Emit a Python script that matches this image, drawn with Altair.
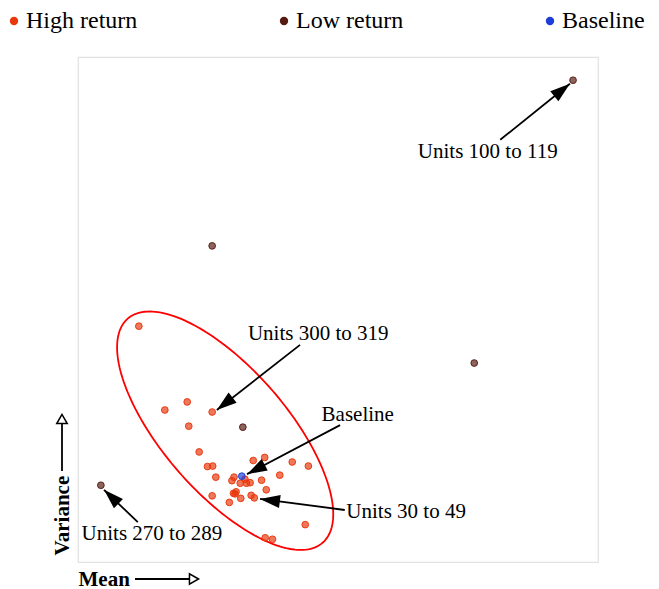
import math
import altair as alt
import pandas as pd

# ---------------- data (arbitrary mean / variance units, 0-100) ----------------
high_mean = [11.7, 21.0, 16.7, 25.8, 21.3, 23.3, 24.9, 25.9, 26.5, 33.7, 35.9,
             30.0, 29.6, 31.2, 32.1, 32.4, 33.1, 35.3, 36.2, 25.8, 29.9, 30.4,
             30.2, 31.3, 29.1, 33.3, 33.9, 38.8, 41.2, 44.3, 43.7, 36.0, 37.4]
high_var = [46.7, 31.7, 30.1, 29.7, 26.9, 21.8, 18.9, 19.0, 16.8, 20.1, 20.7,
            16.8, 16.1, 15.6, 16.4, 15.6, 15.7, 16.2, 14.3, 13.1, 13.6, 13.9,
            13.5, 12.6, 11.8, 13.2, 12.7, 17.2, 19.8, 19.0, 7.4, 4.8, 4.5]
low_mean = [95.2, 25.8, 76.2, 31.7, 4.4]
low_var = [95.4, 62.6, 39.4, 26.7, 15.2]
base_mean = [31.5]
base_var = [17.0]

groups = ["High return", "Low return", "Baseline"]
group_colors = ["#e8380d", "#561a10", "#1d3fd8"]

ann_text = ["Units 100 to 119", "Units 300 to 319", "Baseline", "Units 30 to 49", "Units 270 to 289"]
ann_x = [78.8, 46.2, 53.8, 63.1, 14.2]
ann_y = [81.2, 45.1, 29.1, 9.9, 5.5]
arrow_x0 = [81.2, 42.7, 50.4, 51.3, 11.5]
arrow_y0 = [83.6, 43.0, 27.1, 10.3, 7.9]
arrow_x1 = [94.6, 26.7, 32.5, 35.0, 5.0]
arrow_y1 = [94.7, 30.1, 17.4, 12.5, 14.3]

# ellipse (annotation shape): centre, semi-axes in screen px, tilt in degrees
ell_cx, ell_cy = 28.3, 26.0
ell_a_px, ell_b_px, ell_tilt = 148.5, 62.0, 49.0

W, H = 520, 505
PXX, PXY = W / 100.0, H / 100.0

# ---------------- tables ----------------
pts = pd.DataFrame({
    "mean": high_mean + low_mean + base_mean,
    "var": high_var + low_var + base_var,
    "group": ["High return"] * len(high_mean) + ["Low return"] * len(low_mean) + ["Baseline"] * len(base_mean),
})

ell_rows = []
phi = math.radians(ell_tilt)
n = 180
for i in range(n + 1):
    t = 2 * math.pi * i / n
    dx = ell_a_px * math.cos(t) * math.cos(phi) - ell_b_px * math.sin(t) * math.sin(phi)
    dy = ell_a_px * math.cos(t) * math.sin(phi) + ell_b_px * math.sin(t) * math.cos(phi)
    ell_rows.append({"mean": ell_cx + dx / PXX, "var": ell_cy - dy / PXY, "o": i})
ell = pd.DataFrame(ell_rows)

ann = pd.DataFrame({"text": ann_text, "x": ann_x, "y": ann_y,
                    "x0": arrow_x0, "y0": arrow_y0, "x1": arrow_x1, "y1": arrow_y1})
ann["angle"] = [
    (math.degrees(math.atan2((x1 - x0) * PXX, (y1 - y0) * PXY)) + 360) % 360
    for x0, y0, x1, y1 in zip(arrow_x0, arrow_y0, arrow_x1, arrow_y1)
]

FONT = "Liberation Serif"
xs = alt.Scale(domain=[0, 100], nice=False, zero=False)
ys = alt.Scale(domain=[0, 100], nice=False, zero=False)
cscale = alt.Scale(domain=groups, range=group_colors)

ellipse = alt.Chart(ell).mark_line(color="#ff0000", strokeWidth=1.8).encode(
    x=alt.X("mean:Q", scale=xs, axis=alt.Axis(title="Mean", domain=False, ticks=False, labels=False,
                                              grid=False, titleAnchor="start", titleAlign="left",
                                              titleX=0, titleY=17, titleBaseline="middle",
                                              titleFont=FONT, titleFontSize=21, titleFontWeight="bold",
                                              titleColor="#000")),
    y=alt.Y("var:Q", scale=ys, axis=alt.Axis(title="Variance", domain=False, ticks=False, labels=False,
                                             grid=False, titleAngle=-90, titleAlign="left",
                                             titleX=-16, titleY=498, titleBaseline="middle",
                                             titleFont=FONT, titleFontSize=21, titleFontWeight="bold",
                                             titleColor="#000")),
    order="o:Q",
)

points = alt.Chart(pts).mark_point(filled=True, size=45, opacity=1, fillOpacity=0.68,
                                    strokeWidth=1, strokeOpacity=0.95).encode(
    x="mean:Q",
    y="var:Q",
    color=alt.Color("group:N", scale=cscale, sort=groups,
                    legend=alt.Legend(title=None, orient="none", direction="horizontal",
                                      legendX=-76, legendY=-48, columnPadding=134,
                                      labelFont=FONT, labelFontSize=24, labelColor="#000",
                                      symbolType="circle", symbolSize=70, symbolOpacity=1,
                                      symbolStrokeWidth=0, labelOffset=0, padding=0)),
    stroke=alt.Stroke("group:N", scale=cscale, legend=None),
)

rules = alt.Chart(ann).mark_rule(color="black", strokeWidth=1.8).encode(
    x="x0:Q", y="y0:Q", x2="x1:Q", y2="y1:Q")

heads = alt.Chart(ann).mark_point(shape="M0,0L-1.3,4L1.3,4Z", filled=True, size=100,
                                  color="black", opacity=1).encode(
    x="x1:Q", y="y1:Q", angle=alt.Angle("angle:Q", scale=None))

labels = alt.Chart(ann).mark_text(font=FONT, fontSize=21, color="#000", baseline="middle",
                                  align="center").encode(x="x:Q", y="y:Q", text="text:N")

one = pd.DataFrame({"k": [0]})
x_arrow = alt.Chart(one).mark_rule(color="black", strokeWidth=1.8).encode(
    x=alt.value(57), x2=alt.value(112), y=alt.value(522))
x_head = alt.Chart(one).mark_point(shape="triangle-right", filled=False, size=110, color="black",
                                   strokeWidth=1.5, opacity=1).encode(
    x=alt.value(116), y=alt.value(522))
y_arrow = alt.Chart(one).mark_rule(color="black", strokeWidth=1.8).encode(
    x=alt.value(-16), y=alt.value(366), y2=alt.value(414))
y_head = alt.Chart(one).mark_point(shape="triangle-up", filled=False, size=110, color="black",
                                   strokeWidth=1.5, opacity=1).encode(
    x=alt.value(-16), y=alt.value(362))

chart = alt.layer(ellipse, points, rules, heads, labels, x_arrow, x_head, y_arrow, y_head).properties(
    width=W, height=H,
    autosize=alt.AutoSizeParams(type="none"),
    padding={"left": 70, "top": 49, "right": 53, "bottom": 32},
).configure_view(stroke="#e2e2e2", strokeWidth=1.2)

chart.save("out.html", embed_options={"renderer": "svg", "actions": False})
